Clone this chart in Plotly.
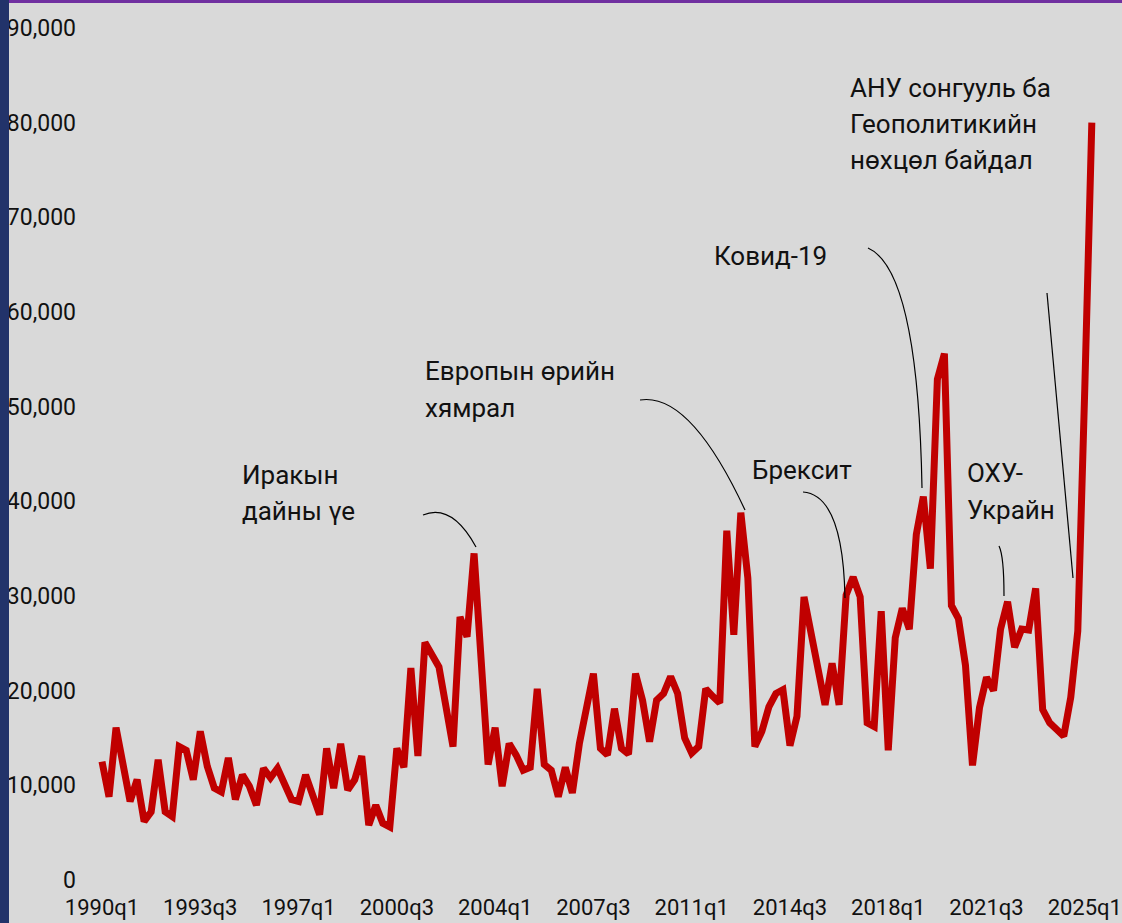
import plotly.graph_objects as go

# ---- data ----
start_year, start_q = 1990, 1
values_k = [
    12.5, 8.8, 16.1, 12.2, 8.3, 10.6, 6.2, 7.2, 12.7, 7.2,
    6.7, 14.1, 13.7, 10.6, 15.7, 12.0, 9.7, 9.3, 12.9, 8.5,
    11.1, 9.9, 7.9, 11.8, 10.8, 11.8, 9.9, 8.5, 8.3, 11.1,
    9.0, 6.9, 13.9, 9.7, 14.4, 9.5, 10.6, 13.1, 5.8, 7.9,
    6.0, 5.6, 13.9, 11.9, 22.4, 13.1, 25.1, 23.6, 22.5, 18.3,
    14.1, 27.8, 25.7, 34.5, 24.0, 12.2, 16.1, 9.9, 14.4, 13.2,
    11.6, 11.9, 20.2, 12.2, 11.6, 8.8, 11.9, 9.2, 14.4, 18.5,
    21.8, 13.9, 13.2, 18.1, 13.9, 13.3, 21.8, 19.0, 14.6, 19.0,
    19.7, 21.5, 19.7, 15.0, 13.4, 14.1, 20.2, 19.4, 18.7, 36.9,
    25.9, 38.8, 31.9, 14.1, 15.7, 18.3, 19.7, 20.1, 14.2, 17.3,
    29.9, 26.1, 21.8, 18.5, 22.9, 18.5, 30.1, 32.0, 29.9, 16.6,
    16.2, 28.4, 13.7, 25.6, 28.7, 26.5, 36.5, 40.5, 32.9, 52.9,
    55.6, 29.0, 27.6, 22.7, 12.1, 18.2, 21.4, 20.0, 26.5, 29.4,
    24.6, 26.5, 26.4, 30.8, 18.0, 16.6, 15.9, 15.2, 19.3, 26.3,
    52.0, 80.0,
]
values = [v * 1000 for v in values_k]

quarters = []
y, q = start_year, start_q
for _ in values:
    quarters.append(f"{y}q{q}")
    q += 1
    if q > 4:
        q, y = 1, y + 1

tick_labels = ["1990q1", "1993q3", "1997q1", "2000q3", "2004q1", "2007q3",
               "2011q1", "2014q3", "2018q1", "2021q3", "2025q1"]
y_ticks = [0, 10000, 20000, 30000, 40000, 50000, 60000, 70000, 80000, 90000]

x_pos = list(range(len(values)))
tick_pos = [quarters.index(t) for t in tick_labels]

# ---- layout geometry (pixels) ----
W, H = 1122, 923
L, R, T, B = 80, 10, 28, 43
PW, PH = W - L - R, H - T - B


def px(xp):
    return (xp - L) / PW


def py(yp):
    return (H - B - yp) / PH


BG = "#d9d9d9"
fig = go.Figure()
fig.add_trace(go.Scatter(
    x=x_pos, y=values, mode="lines",
    line=dict(color="#c00000", width=7),
    hoverinfo="skip", showlegend=False,
))

# annotation texts: (lines, left px, first line center px, line step)
notes = [
    (["Иракын", "дайны үе"], 240, 475, 36),
    (["Европын өрийн", "хямрал"], 423, 371, 37),
    (["Брексит"], 750, 470, 36),
    (["Ковид-19"], 712, 256, 36),
    (["ОХУ-", "Украйн"], 965, 473, 37),
    (["АНУ сонгууль ба", "Геополитикийн", "нөхцөл байдал"], 848, 88, 36),
]
annotations = []
for lines, xl, yc, step in notes:
    for k, txt in enumerate(lines):
        annotations.append(dict(
            xref="paper", yref="paper", x=px(xl), y=py(yc + k * step),
            xanchor="left", yanchor="middle", text=txt, showarrow=False,
            font=dict(family="Roboto", size=26, color="#111111"),
        ))

# leader curves (pixel coords): start, control, end
leaders = [
    ((423, 515), (452, 503), (476, 547)),
    ((640, 400), (690, 392), (745, 510)),
    ((803, 492), (843, 495), (845, 598)),
    ((868, 248), (918, 270), (922, 488)),
    ((999, 546), (1004, 556), (1004, 596)),
    ((1047, 293), (1060, 435), (1073, 578)),
]
shapes = []
for (x0, y0), (cx, cy), (x1, y1) in leaders:
    shapes.append(dict(
        type="path", xref="paper", yref="paper",
        path=f"M {px(x0)},{py(y0)} Q {px(cx)},{py(cy)} {px(x1)},{py(y1)}",
        line=dict(color="#000000", width=1.2),
    ))

# frame strips
shapes.append(dict(type="rect", xref="paper", yref="paper",
                   x0=px(0), x1=px(9), y0=py(H), y1=py(0),
                   fillcolor="#22336a", line=dict(width=0), layer="above"))
shapes.append(dict(type="rect", xref="paper", yref="paper",
                   x0=px(9), x1=px(W), y0=py(3), y1=py(0),
                   fillcolor="#7030a0", line=dict(width=0), layer="above"))

fig.update_layout(
    width=W, height=H, autosize=False,
    margin=dict(l=L, r=R, t=T, b=B, pad=0, autoexpand=False),
    paper_bgcolor=BG, plot_bgcolor=BG,
    annotations=annotations, shapes=shapes,
    showlegend=False,
    xaxis=dict(
        range=[-22 / 7.02, (W - R - 102) / 7.02],
        tickvals=tick_pos, ticktext=tick_labels,
        showgrid=False, zeroline=False, showline=False, ticks="",
        tickfont=dict(family="Roboto", size=22, color="#111111"),
        ticklabelstandoff=12, automargin=False,
    ),
    yaxis=dict(
        range=[0, 90000], tickvals=y_ticks, tickformat=",",
        showgrid=False, zeroline=False, showline=False, ticks="",
        tickfont=dict(family="Roboto", size=23, color="#111111"),
        ticklabelstandoff=3, automargin=False,
    ),
)

post = (
    "document.documentElement.style.margin='0';"
    "document.body.style.margin='0';"
    "document.body.style.overflow='hidden';"
    "document.body.style.background='" + BG + "';"
)
fig.write_html("out.html", config={"responsive": False, "displayModeBar": False},
               post_script=post)
